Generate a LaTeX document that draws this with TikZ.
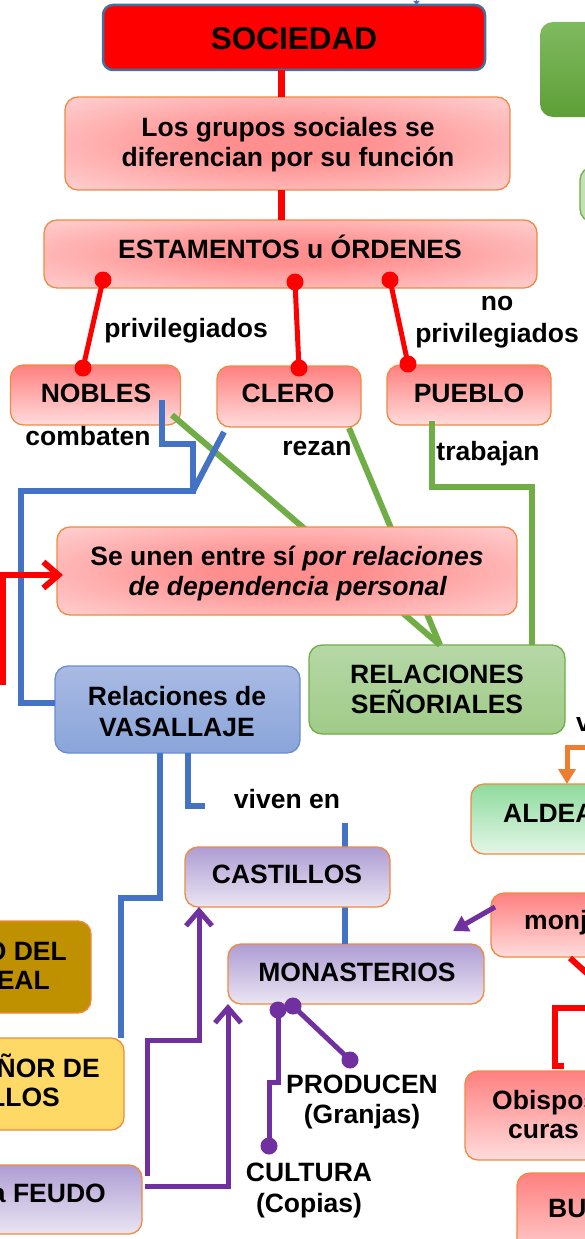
\documentclass[tikz,border=0pt]{standalone}
\usepackage{fontspec}
\setmainfont{Liberation Sans}
\usetikzlibrary{arrows.meta}
\definecolor{lred}{HTML}{FF0000}
\definecolor{lblue}{HTML}{4472C4}
\definecolor{lgreen}{HTML}{70AD47}
\definecolor{lpurp}{HTML}{7030A0}
\definecolor{lorange}{HTML}{ED7D31}
\definecolor{bor}{HTML}{F08A42}
\definecolor{socb}{HTML}{41719C}
\definecolor{pkin}{HTML}{FF8E8E}
\definecolor{pkout}{HTML}{FFD6D6}
\definecolor{rtop}{HTML}{FF8080}
\definecolor{rbot}{HTML}{FFDCDC}
\definecolor{dgA}{HTML}{80BA60}
\definecolor{dgB}{HTML}{5E9F37}
\definecolor{lgA}{HTML}{C5E0B4}
\definecolor{rgA}{HTML}{B6D8A7}
\definecolor{rgB}{HTML}{A0CB87}
\definecolor{vbA}{HTML}{A9BAE3}
\definecolor{vbB}{HTML}{8AA5DA}
\definecolor{pgA}{HTML}{AE9DD3}
\definecolor{pgB}{HTML}{EAE5F3}
\definecolor{alA}{HTML}{8EDB9D}
\definecolor{alB}{HTML}{E4F6E8}
\definecolor{gold}{HTML}{BF9000}
\definecolor{yel}{HTML}{FFD966}
\pgfdeclareradialshading{pinkglow}{\pgfpoint{0bp}{0bp}}{color(0bp)=(pkin); color(8bp)=(pkin); color(38bp)=(pkout); color(50bp)=(pkout)}
\begin{document}
\begin{tikzpicture}[x=1pt,y=-1pt,
  box/.style={draw=bor, line width=1.3pt, rounded corners=13pt, inner sep=0pt, outer sep=0pt},
  glow/.style={box, shading=pinkglow},
  redgrad/.style={box, top color=rtop, bottom color=rbot},
  purpgrad/.style={box, top color=pgA, bottom color=pgB},
  txt/.style={font=\fontsize{26.5}{30}\selectfont\bfseries, inner sep=0pt, anchor=base},
  txtw/.style={txt, anchor=base west},
  txte/.style={txt, anchor=base east},
  redln/.style={draw=lred, line width=7pt},
  redthin/.style={draw=lred, line width=5pt},
  blueln/.style={draw=lblue, line width=6pt},
  greenln/.style={draw=lgreen, line width=6pt},
  purpln/.style={draw=lpurp, line width=5pt},
  orangeln/.style={draw=lorange, line width=5pt},
  barb/.style={-{Straight Barb[length=15pt,width=26pt]}},
  tri/.style={-{Triangle[length=15pt,width=17pt]}}
]
\useasboundingbox (0,0) rectangle (585,1239);
\clip (0,0) rectangle (585,1239);

% ---------- boxes (lower layer)
\node[box, draw=none, top color=dgA, bottom color=dgB, minimum width=120pt, minimum height=95pt] (dkg) at (600,69.5) {};
\node[box, draw=lgreen, fill=lgA, minimum width=80pt, minimum height=55pt] (ltg) at (620,194.5) {};
\node[box, fill=lred, draw=socb, line width=2.5pt, rounded corners=10pt, minimum width=382pt, minimum height=65pt] (soc) at (294,37.5) {};
\node[glow, minimum width=445pt, minimum height=93pt] (grupos) at (287.5,143.5) {};
\node[glow, minimum width=493pt, minimum height=68pt] (estam) at (290.5,254) {};
\node[redgrad, minimum width=170pt, minimum height=60pt] (nobles) at (95.5,395) {};
\node[redgrad, minimum width=144pt, minimum height=61pt] (clero) at (289,396.5) {};
\node[redgrad, minimum width=164pt, minimum height=60pt] (pueblo) at (469,395) {};
\node[box, draw=lgreen, top color=rgA, bottom color=rgB, minimum width=256pt, minimum height=89pt] (relac) at (437,689.5) {};
\node[box, draw=lblue!80, top color=vbA, bottom color=vbB, minimum width=245pt, minimum height=87pt] (vasal) at (177.5,709.5) {};
\node[purpgrad, minimum width=256pt, minimum height=60pt] (monast) at (356,974) {};
\node[box, top color=alA, bottom color=alB, minimum width=189pt, minimum height=70pt] (aldea) at (565.5,819) {};
\node[redgrad, minimum width=169pt, minimum height=64pt] (monjes) at (575.5,925) {};
\node[redgrad, minimum width=195pt, minimum height=89pt] (obispos) at (562.5,1115.5) {};
\node[redgrad, minimum width=143pt, minimum height=97pt] (bu) at (588.5,1221.5) {};
\node[box, fill=gold, minimum width=171pt, minimum height=92pt] (gold) at (5.5,967) {};
\node[box, fill=yel, minimum width=204pt, minimum height=92pt] (yel) at (22,1084) {};
\node[purpgrad, minimum width=222pt, minimum height=69pt] (feudo) at (31,1199.5) {};

% ---------- named free ends / bends
\coordinate (topin) at (416.5,-12);
\coordinate (e1) at (103,280);  \coordinate (n1) at (83,368);
\coordinate (e2) at (295,282);  \coordinate (n2) at (299,368);
\coordinate (e3) at (390,280);  \coordinate (n3) at (408,364);
\coordinate (nb) at (162,400);
\coordinate (cb) at (224,432);
\coordinate (jn) at (193,491);
\coordinate (ng) at (172,415);
\coordinate (cg) at (349,428);
\coordinate (pg) at (432,421);
\coordinate (rtop) at (440,645);
\coordinate (vv1) at (188,806);
\coordinate (vv2) at (205,806);
\coordinate (cm) at (345,823);
\coordinate (orin) at (600,747);
\coordinate (mjout) at (495,907);
\coordinate (mjtip) at (453,931);
\coordinate (rdA) at (570,958);
\coordinate (rdB) at (600,985);
\coordinate (brA) at (600,1008);
\coordinate (brB) at (564,1066);
\coordinate (ma) at (278,1010);
\coordinate (mb) at (293,1006);
\coordinate (cu) at (269,1146);
\coordinate (pr) at (350,1060);
\coordinate (f1) at (147,1176);
\coordinate (f2) at (145,1186);
\coordinate (lin) at (-10,575);
\coordinate (lup) at (3,685);

% ---------- connectors
\draw[draw=lblue, line width=1.2pt, -{Triangle[length=4pt,width=6pt]}] (topin) -- (soc.north -| topin);
\draw[redln] (soc.south -| 281,0) -- (grupos.north -| 281,0);
\draw[redln] (grupos.south -| 281,0) -- (estam.north -| 281,0);
\draw[redthin] (e1) -- (n1) (e2) -- (n2) (e3) -- (n3);
\foreach \p in {e1,n1,e2,n2,e3,n3} \fill[lred] (\p) circle[radius=8.5pt];

\draw[greenln] (ng) -- (rtop);
\draw[greenln] (cg) -- (rtop);
\draw[greenln] (pg) |- (532,487) -- (relac.north -| 532,0);

\draw[blueln] (nb) |- (193,444) -- (jn) -- (21,491) |- (vasal.west |- 0,703);
\draw[blueln] (cb) -- (jn);
\draw[blueln] (vasal.south -| 160,0) |- (121,898) -- (yel.north -| 121,0);
\draw[blueln] (vasal.south -| vv1) -- (vv1) -- (vv2);
\draw[blueln] (cm) -- (monast.north -| cm);

\draw[orangeln, tri] (orin) -| (aldea.north -| 567,0);
\draw[purpln, tri] (mjout) -- (mjtip);
\draw[redthin, line width=6pt] (rdA) -- (rdB);
\draw[redthin, line width=6pt] (brA) -| (555,1066) -- (brB);

\draw[purpln] (ma) |- (269,1082) -- (cu);
\draw[purpln] (mb) -- (pr);
\foreach \p in {ma,mb,cu,pr} \fill[lpurp] (\p) circle[radius=8.5pt];

\draw[redln, line width=6pt] (3,575) -- (lup);

% ---------- upper layer boxes
\node[glow, minimum width=460pt, minimum height=88pt] (seunen) at (287,571) {};
\node[purpgrad, minimum width=205pt, minimum height=60pt] (cast) at (287.5,877) {};

\draw[redln, line width=6pt, barb] (lin) -- ([xshift=6pt]seunen.west |- lin);
\draw[purpln, barb] (f1) |- (199,1040) -- (cast.south -| 199,0);
\draw[purpln, barb] (f2) -| (monast.south west);

% ---------- texts
\node[txt, font=\fontsize{31.5}{36}\selectfont\bfseries] (t-soc) at (294,50) {SOCIEDAD};
\node[txt] (t-gr1) at (288,136) {Los grupos sociales se};
\node[txt] (t-gr2) at (288,166) {diferencian por su función};
\node[txt] (t-est) at (290,258) {ESTAMENTOS u ÓRDENES};
\node[txt] (t-priv) at (186,337) {privilegiados};
\node[txt] (t-no) at (497,310) {no};
\node[txt] (t-nopriv) at (497,342) {privilegiados};
\node[txt] (t-nob) at (96,402) {NOBLES};
\node[txt] (t-cle) at (288,402) {CLERO};
\node[txt] (t-pue) at (469,402) {PUEBLO};
\node[txt] (t-comb) at (88,445) {combaten};
\node[txt] (t-rez) at (317,455) {rezan};
\node[txt] (t-trab) at (488,460) {trabajan};
\node[txt] (t-su1) at (287,565) {Se unen entre sí \textit{por relaciones}};
\node[txt] (t-su2) at (288,595) {\textit{de dependencia personal}};
\node[txt] (t-rel1) at (437,683) {RELACIONES};
\node[txt] (t-rel2) at (437,713) {SEÑORIALES};
\node[txt] (t-vas1) at (177,705) {Relaciones de};
\node[txt] (t-vas2) at (177,736) {VASALLAJE};
\node[txt] (t-viv) at (287,808) {viven en};
\node[txtw] (t-viv2) at (576,731) {viven en};
\node[txt] (t-cas) at (287,883) {CASTILLOS};
\node[txtw] (t-ald) at (503,822) {ALDEAS};
\node[txtw] (t-mon) at (524,929) {monjes};
\node[txt] (t-mst) at (357,981) {MONASTERIOS};
\node[txtw] (t-ob1) at (492,1109) {Obispos};
\node[txtw] (t-ob2) at (508,1138) {curas};
\node[txtw] (t-bu) at (548,1217) {BURGUESÍA};
\node[txte] (t-g1) at (67,960) {DOMINIO DEL};
\node[txte] (t-g2) at (50,989) {REAL};
\node[txte] (t-y1) at (100,1077) {SEÑOR DE};
\node[txte] (t-y2) at (60,1106) {VASALLOS};
\node[txte] (t-f) at (106,1202) {Otorga FEUDO};
\node[txt] (t-pr1) at (362,1093) {PRODUCEN};
\node[txt] (t-pr2) at (362,1123) {(Granjas)};
\node[txt] (t-cu1) at (309,1181) {CULTURA};
\node[txt] (t-cu2) at (309,1212) {(Copias)};
\end{tikzpicture}
\end{document}
